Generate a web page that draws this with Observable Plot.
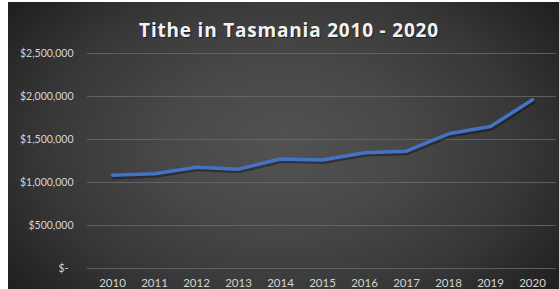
<!DOCTYPE html>
<html>
<head>
<meta charset="utf-8">
<script src="https://cdn.jsdelivr.net/npm/d3@7"></script>
<script src="https://cdn.jsdelivr.net/npm/@observablehq/plot@0.6"></script>
<style>
  html, body { margin: 0; padding: 0; background: #ffffff; }
  #wrap { width: 559px; height: 289px; position: relative; overflow: hidden; background: #fff; }
  #bg {
    position: absolute; left: 8px; top: 2px; width: 551px; height: 287px;
    background: radial-gradient(ellipse 62% 80% at 50% 50%, #525252 0%, #484848 35%, #373737 70%, #202020 100%);
  }
  #wrap svg { position: absolute; left: 0; top: 0; display: block; background: transparent; }
</style>
</head>
<body>
<div id="wrap"><div id="bg"></div></div>
<script>
const title = "Tithe in Tasmania 2010 - 2020";
const years = ["2010","2011","2012","2013","2014","2015","2016","2017","2018","2019","2020"];
const tithe = [1085000, 1101000, 1178000, 1155000, 1273000, 1262000, 1345000, 1364000, 1566000, 1651000, 1962000];
const yTicks = [0, 500000, 1000000, 1500000, 2000000, 2500000];
const yTickLabels = ["$-", "$500,000", "$1,000,000", "$1,500,000", "$2,000,000", "$2,500,000"];

const data = years.map((y, i) => ({year: y, value: tithe[i]}));
const labelOf = new Map(yTicks.map((t, i) => [t, yTickLabels[i]]));

const chart = Plot.plot({
  width: 559,
  height: 289,
  marginTop: 53,
  marginBottom: 21,
  marginLeft: 87,
  marginRight: 3,
  style: {background: "transparent", fontFamily: "Lato, 'Open Sans', sans-serif", fontSize: "11px", color: "#d4d4d4"},
  x: {type: "point", domain: years, padding: 0.5, label: null},
  y: {domain: [0, 2500000], label: null},
  marks: [
    Plot.ruleY(yTicks, {stroke: "#6a6a6a", strokeWidth: 1, strokeOpacity: 0.8}),
    Plot.axisX({tickSize: 0, tickPadding: 10, fontSize: 11.5, fill: "#d4d4d4"}),
    Plot.axisY(yTicks.filter(t => t !== 0), {tickSize: 0, tickPadding: 14, tickFormat: d => labelOf.get(d), fontSize: 10.5, fill: "#d4d4d4"}),
    Plot.axisY([0], {tickSize: 0, tickPadding: 19, tickFormat: d => labelOf.get(d), fontSize: 10.5, fill: "#d4d4d4"}),
    Plot.line(data, {x: "year", y: "value", stroke: "#000", strokeOpacity: 0.35, strokeWidth: 4, dx: 1, dy: 2, strokeLinejoin: "round"}),
    Plot.line(data, {x: "year", y: "value", stroke: "#4472C4", strokeWidth: 3.5, strokeLinejoin: "round", strokeLinecap: "round"}),
    Plot.text([title], {frameAnchor: "top", dy: -29, dx: -32, text: d => d, fill: "#000", fillOpacity: 0.5, fontSize: 19, fontWeight: "bold", fontFamily: "'Open Sans', sans-serif"}),
    Plot.text([title], {frameAnchor: "top", dy: -30, dx: -33, text: d => d, fill: "#f2f2f2", fontSize: 19, fontWeight: "bold", fontFamily: "'Open Sans', sans-serif"})
  ]
});
d3.select(chart).selectAll("text").filter(function() { return this.textContent === title; })
  .style("letter-spacing", "0.8px");
document.getElementById("wrap").appendChild(chart);
</script>
</body>
</html>
